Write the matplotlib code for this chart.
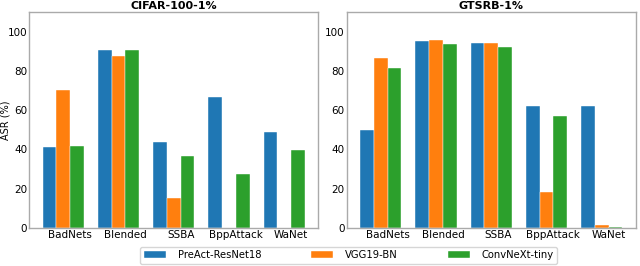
import matplotlib
matplotlib.use("Agg")
import matplotlib.pyplot as plt
import numpy as np

attacks = ["BadNets", "Blended", "SSBA", "BppAttack", "WaNet"]
models = ["PreAct-ResNet18", "VGG19-BN", "ConvNeXt-tiny"]
colors = ["#1f77b4", "#ff7f0e", "#2ca02c"]

cifar_resnet = [41.3, 90.4, 43.8, 66.7, 48.9]
cifar_vgg = [70.4, 87.6, 15.1, 0.2, 0.2]
cifar_convnext = [41.5, 90.7, 36.5, 27.4, 39.6]

gtsrb_resnet = [50.1, 95.4, 94.4, 61.9, 62.3]
gtsrb_vgg = [86.6, 95.8, 94.1, 18.4, 1.5]
gtsrb_convnext = [81.7, 93.6, 92.4, 57.2, 0.3]

panels = [
    ("CIFAR-100-1%", [cifar_resnet, cifar_vgg, cifar_convnext]),
    ("GTSRB-1%", [gtsrb_resnet, gtsrb_vgg, gtsrb_convnext]),
]

fig, axes = plt.subplots(1, 2, figsize=(6.4, 2.66), dpi=100)
fig.subplots_adjust(left=0.046, right=0.993, top=0.955, bottom=0.143, wspace=0.1)

w = 0.25
x = np.arange(len(attacks))
handles = []
for i, (ax, (title, series)) in enumerate(zip(axes, panels)):
    for j, vals in enumerate(series):
        b = ax.bar(x + (j - 1) * w, vals, w, color=colors[j], label=models[j],
                   edgecolor="white", linewidth=0.3)
        if i == 0:
            handles.append(b)
    ax.set_xticks(x + w / 2)
    ax.set_xticklabels(attacks, fontsize=7.5)
    ax.set_ylim(0, 110)
    ax.set_yticks([0, 20, 40, 60, 80, 100])
    ax.tick_params(axis="y", labelsize=7.5, length=0, pad=1.5)
    ax.tick_params(axis="x", length=0, pad=1.5)
    ax.set_title(title, fontsize=8, fontweight="bold", pad=2)
    for s in ax.spines.values():
        s.set_color("#aaaaaa")
        s.set_linewidth(1.0)
axes[0].set_ylabel("ASR (%)", fontsize=7, va="center")
axes[0].yaxis.set_label_coords(-0.083, 0.5)

fig.legend(handles, models, loc="lower center", bbox_to_anchor=(0.545, -0.01),
           ncol=3, fontsize=7.2, handlelength=2.2, handleheight=0.6,
           columnspacing=5.0, frameon=True, borderpad=0.35, handletextpad=1.2)

fig.savefig("out.png", dpi=100)
